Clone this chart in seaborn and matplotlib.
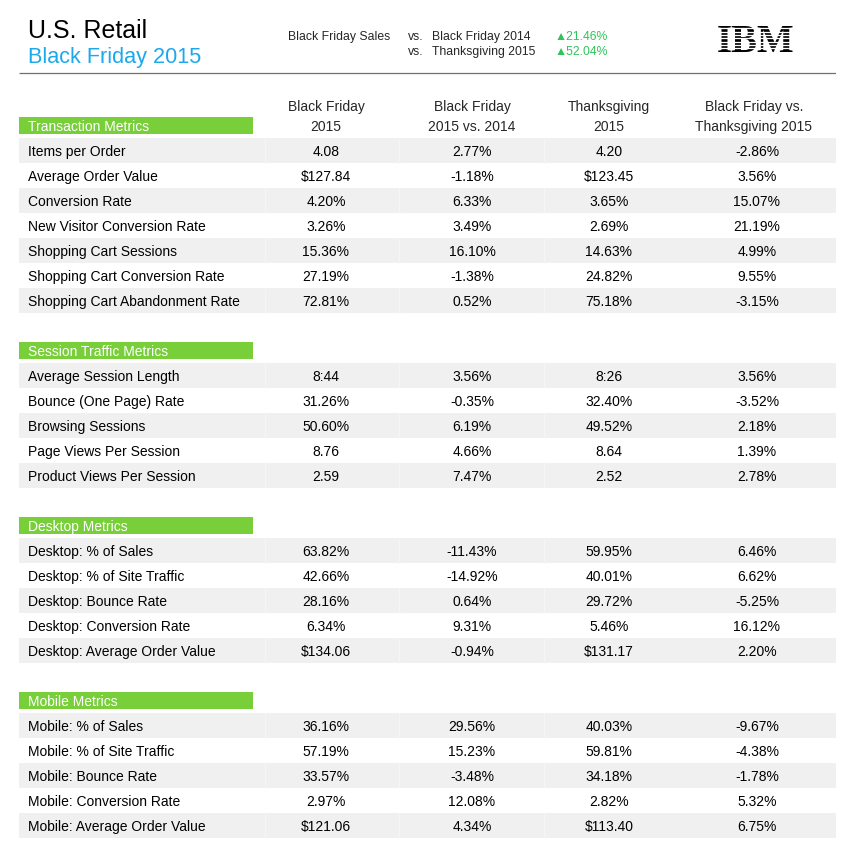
import numpy as np
import pandas as pd
import matplotlib
matplotlib.use("Agg")
import matplotlib.pyplot as plt
import seaborn as sns

# table content
section_names = ["Transaction Metrics", "Session Traffic Metrics", "Desktop Metrics", "Mobile Metrics"]

transaction_labels = ["Items per Order", "Average Order Value", "Conversion Rate",
                      "New Visitor Conversion Rate", "Shopping Cart Sessions",
                      "Shopping Cart Conversion Rate", "Shopping Cart Abandonment Rate"]
session_labels = ["Average Session Length", "Bounce (One Page) Rate", "Browsing Sessions",
                  "Page Views Per Session", "Product Views Per Session"]
desktop_labels = ["Desktop: % of Sales", "Desktop: % of Site Traffic", "Desktop: Bounce Rate",
                  "Desktop: Conversion Rate", "Desktop: Average Order Value"]
mobile_labels = ["Mobile: % of Sales", "Mobile: % of Site Traffic", "Mobile: Bounce Rate",
                 "Mobile: Conversion Rate", "Mobile: Average Order Value"]

column_headers = [("Black Friday", "2015"), ("Black Friday", "2015 vs. 2014"),
                  ("Thanksgiving", "2015"), ("Black Friday vs.", "Thanksgiving 2015")]

bf_2015 = ["4.08", "$127.84", "4.20%", "3.26%", "15.36%", "27.19%", "72.81%",
           "8:44", "31.26%", "50.60%", "8.76", "2.59",
           "63.82%", "42.66%", "28.16%", "6.34%", "$134.06",
           "36.16%", "57.19%", "33.57%", "2.97%", "$121.06"]
bf_vs_2014 = ["2.77%", "-1.18%", "6.33%", "3.49%", "16.10%", "-1.38%", "0.52%",
              "3.56%", "-0.35%", "6.19%", "4.66%", "7.47%",
              "-11.43%", "-14.92%", "0.64%", "9.31%", "-0.94%",
              "29.56%", "15.23%", "-3.48%", "12.08%", "4.34%"]
tg_2015 = ["4.20", "$123.45", "3.65%", "2.69%", "14.63%", "24.82%", "75.18%",
           "8:26", "32.40%", "49.52%", "8.64", "2.52",
           "59.95%", "40.01%", "29.72%", "5.46%", "$131.17",
           "40.03%", "59.81%", "34.18%", "2.82%", "$113.40"]
bf_vs_tg = ["-2.86%", "3.56%", "15.07%", "21.19%", "4.99%", "9.55%", "-3.15%",
            "3.56%", "-3.52%", "2.18%", "1.39%", "2.78%",
            "6.46%", "6.62%", "-5.25%", "16.12%", "2.20%",
            "-9.67%", "-4.38%", "-1.78%", "5.32%", "6.75%"]

sales_compare = ["Black Friday 2014", "Thanksgiving 2015"]
sales_growth = ["21.46%", "52.04%"]

sns.set_theme(style="white")
plt.rcParams['font.family'] = ['Liberation Sans', 'DejaVu Sans']

GREEN = "#78cf3a"
GRAY = "#f0f0f0"

# build row layout: header slot, rows, blank slot between sections
sections = [transaction_labels, session_labels, desktop_labels, mobile_labels]
rows = []
slot = 0
for s, labels in enumerate(sections):
    rows.append({"kind": "header", "slot": slot, "text": section_names[s], "idx": -1})
    slot += 1
    for j, lab in enumerate(labels):
        rows.append({"kind": "row", "slot": slot, "text": lab, "idx": j})
        slot += 1
    slot += 1
table = pd.DataFrame(rows)
table["y"] = 125.5 + 25 * table["slot"]
data_rows = table[table.kind == "row"].reset_index(drop=True)
data_rows["bf_2015"] = bf_2015
data_rows["bf_vs_2014"] = bf_vs_2014
data_rows["tg_2015"] = tg_2015
data_rows["bf_vs_tg"] = bf_vs_tg
headers = table[table.kind == "header"]

fig = plt.figure(figsize=(8.51, 8.56), dpi=100)
# axes spans pixel columns 19..836, y in pixels top-down
ax = fig.add_axes([19 / 851, 0, 817 / 851, 1])

shaded = data_rows[data_rows.idx % 2 == 0].copy()
shaded["w"] = 817
sns.barplot(data=shaded, x="w", y="y", orient="h", native_scale=True,
            color=GRAY, saturation=1, width=0.5, errorbar=None, ax=ax,
            edgecolor="none", linewidth=0)
for yy in shaded["y"]:
    ax.vlines([265 - 19, 399 - 19, 544 - 19], yy - 12.3, yy + 12.3, color="#f5f5f5", lw=0.8)

ax.barh(headers["y"], 234, height=16.5, left=0, color=GREEN, edgecolor="none")

ax.set_xlim(0, 817)
ax.set_ylim(856, 0)
ax.axis("off")

col_x = [326 - 19, 472 - 19, 609 - 19, 757 - 19]
head_x = [326 - 19, 472 - 19, 609 - 19, 754 - 19]
cols = ["bf_2015", "bf_vs_2014", "tg_2015", "bf_vs_tg"]

for _, r in headers.iterrows():
    ax.text(9, r.y + 5.5, r.text, color="white", fontsize=10, va="baseline", ha="left")

for _, r in data_rows.iterrows():
    ax.text(9, r.y + 5.5, r.text, color="black", fontsize=10, va="baseline", ha="left")
    for cx, c in zip(col_x, cols):
        ax.text(cx, r.y + 5.5, r[c], color="black", fontsize=10, va="baseline", ha="center")

for hx, (l1, l2) in zip(head_x, column_headers):
    ax.text(hx, 111, l1, fontsize=10, va="baseline", ha="center")
    ax.text(hx, 131, l2, fontsize=10, va="baseline", ha="center")

# title block
ax.text(9, 38, "U.S. Retail", fontsize=18, va="baseline", ha="left", color="black")
ax.text(9, 63, "Black Friday 2015", fontsize=15.6, va="baseline", ha="left", color="#1ba9ec")
ax.text(288 - 19, 40, "Black Friday Sales", fontsize=8.8, va="baseline", ha="left")
for k in range(2):
    yb = 40 + 15 * k
    ax.text(408 - 19, yb, "vs.", fontsize=8.8, va="baseline", ha="left")
    ax.text(432 - 19, yb, sales_compare[k], fontsize=8.8, va="baseline", ha="left")
    ax.text(555 - 19, yb, "\u25b2" + sales_growth[k], fontsize=8.8, va="baseline", ha="left",
            color="#2ec45a")

ax.hlines(73.3, 0, 817, color="#707070", lw=0.9)

# striped logo
ax.text(756 - 19, 52, "IBM", fontsize=28, fontweight="bold", family=["Liberation Serif", "DejaVu Serif"],
        va="baseline", ha="center", color="black", zorder=3)
top, bottom = 25.5, 52
period = (bottom - top) / 8
for k in range(1, 8):
    ax.hlines(top + period * k - 0.55, 712 - 19, 800 - 19, color="white", lw=0.95, zorder=4)

fig.savefig("out.png", dpi=100, facecolor="white")
